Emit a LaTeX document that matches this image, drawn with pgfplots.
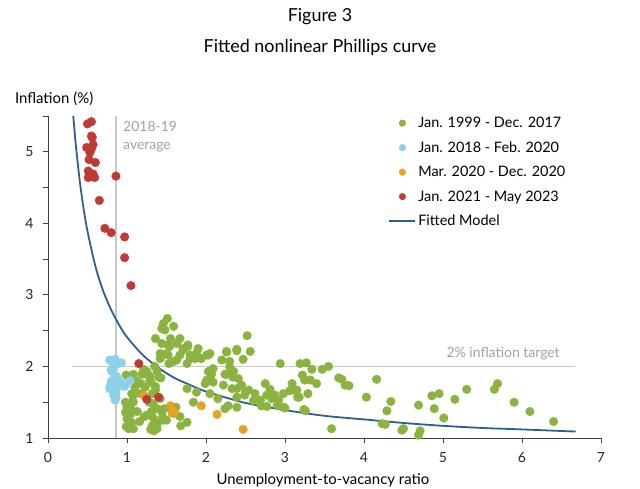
\documentclass[border=0pt]{standalone}
\usepackage{pgfplots}
\pgfplotsset{compat=1.18}
\usepackage{fontspec}
\setmainfont{Lato}
\definecolor{cgreen}{HTML}{8AB340}
\definecolor{cblue}{HTML}{8DD0EA}
\definecolor{corange}{HTML}{E3A21F}
\definecolor{cred}{HTML}{BE3A34}
\definecolor{cline}{HTML}{2E5F8F}
\definecolor{cgrid}{HTML}{C8C8C8}
\definecolor{cgtext}{HTML}{A0A0A0}
\definecolor{caxis}{HTML}{404040}
\begin{document}
\begin{tikzpicture}
\path[use as bounding box] (-48bp,-51bp) rectangle (592bp,438bp);
\begin{axis}[at={(0,0)}, anchor=south west, scale only axis,
  width=553bp, height=322bp,
  xmin=0, xmax=7, ymin=1, ymax=5.5, clip=false,
  axis x line=bottom, axis y line=left,
  axis line style={caxis, -, line width=0.8bp},
  xtick={0,...,7}, ytick={1,...,5}, minor ytick={1.5,2.5,3.5,4.5,5.5},
  tick align=outside, major tick length=5bp, minor tick length=5bp,
  tick style={caxis, line width=0.8bp},
  ticklabel style={font=\fontsize{14}{16}\selectfont, text=black!85},
  xticklabel style={yshift=-6bp}, yticklabel style={xshift=-6bp},
  /pgf/number format/assume math mode=true,
  xlabel={Unemployment-to-vacancy ratio},
  every axis x label/.style={at={(axis description cs:0.497,-0.13)}, anchor=center, inner sep=0, font=\fontsize{15}{17}\selectfont},
  ylabel={Inflation (\%)},
  every axis y label/.style={at={(axis description cs:-0.06,1.053)}, anchor=west, inner sep=0, font=\fontsize{15}{17}\selectfont},
  legend style={draw=none, fill=none, at={(axis description cs:0.610,1.0095)}, anchor=north west,
    font=\fontsize{14.5}{16}\selectfont, row sep=8.5bp,
    /tikz/every even column/.append style={column sep=0bp},
    /tikz/every odd column/.append style={column sep=0bp}},
  legend cell align=left,
]
\addplot[cgrid, line width=1.3bp, forget plot] coordinates {(0.86,1) (0.86,5.5)};
\addplot[cgrid, line width=1.3bp, forget plot] coordinates {(0.31,2) (6.67,2)};

\addplot[only marks, mark=*, mark size=4.3bp, color=cgreen, mark options={draw=cgreen, fill=cgreen},
  legend image code/.code={\fill (13bp,0) circle (3.3bp);}] coordinates {
(0.99,1.88)(0.98,1.50)(1.00,1.43)(0.98,1.36)(1.00,1.27)(0.99,1.16)(1.06,1.22)(1.06,1.39)(1.08,1.50)(1.06,1.62)
(1.10,1.71)(1.12,1.80)(1.08,1.89)(1.19,1.89)(1.21,1.96)(1.25,1.89)(1.29,1.80)(1.23,1.71)(1.17,1.62)(1.13,1.37)
(1.16,1.23)(1.08,1.13)(1.02,1.13)(1.05,1.15)(1.05,1.34)(1.02,1.48)(1.07,1.52)(1.11,1.62)(1.18,1.76)(1.24,1.90)
(1.27,1.88)(1.30,1.78)(1.32,1.62)(1.28,1.50)(1.25,1.32)(1.22,1.30)(1.32,1.30)(1.30,1.12)(1.34,1.10)(1.32,1.17)
(1.38,1.19)(1.45,1.29)(1.47,1.41)(1.54,1.43)(1.62,1.43)(1.68,1.17)(1.38,1.41)(1.42,1.55)(1.36,1.67)(1.43,1.84)
(1.35,2.00)(1.40,1.85)(1.33,1.48)(1.31,1.37)(1.35,1.25)(1.38,1.13)(1.44,1.37)(1.46,1.25)(1.50,1.25)(1.67,1.30)
(1.76,1.22)(1.42,2.18)(1.50,2.18)(1.54,2.28)(1.44,2.32)(1.63,2.32)(1.71,2.23)(1.77,2.28)(1.88,2.18)(1.80,2.11)
(1.63,2.09)(1.53,2.04)(1.76,1.69)(1.88,1.64)(1.84,1.50)(1.51,2.67)(1.46,2.60)(1.48,2.51)(1.44,2.53)(1.36,2.39)
(1.59,2.56)(1.55,2.39)(1.52,2.30)(1.67,2.39)(1.71,2.25)(1.77,2.30)(1.90,2.25)(1.44,2.16)(1.52,2.16)(1.67,2.16)
(1.80,2.16)(2.01,2.16)(2.05,2.18)(1.86,2.11)(1.94,2.11)(2.26,2.20)(2.39,2.22)(2.30,2.07)(1.59,2.07)(1.76,2.04)
(1.42,2.11)(1.25,1.93)(1.29,1.86)(1.38,1.93)(2.03,1.93)(2.07,1.89)(2.26,1.89)(2.35,1.93)(1.36,1.72)(2.01,1.81)
(2.52,2.43)(2.39,2.24)(2.26,2.21)(2.56,2.21)(2.03,2.16)(2.47,2.10)(2.20,2.09)(2.09,1.97)(2.24,1.89)(2.30,1.99)
(2.34,1.85)(2.41,1.83)(2.45,1.74)(1.99,1.76)(2.09,1.78)(2.22,1.74)(2.33,1.69)(2.39,1.69)(2.54,1.67)(2.49,1.60)
(2.62,1.62)(2.75,1.76)(2.77,1.60)(2.69,1.53)(2.39,1.57)(2.39,1.43)(2.24,1.41)(2.28,1.45)(2.87,1.60)(2.92,1.53)
(2.98,1.62)(3.09,1.76)(3.11,1.67)(2.94,2.04)(3.19,2.04)(2.83,1.55)(2.98,1.43)(3.06,1.66)(3.16,1.57)(3.24,1.40)
(2.90,1.45)(3.00,1.42)(2.77,1.44)(2.81,1.68)(2.50,1.65)(2.05,1.62)(2.15,1.55)(2.60,1.52)(2.70,1.45)
(3.27,2.05)(3.34,1.96)(3.47,1.96)(3.55,2.00)(3.22,1.88)(3.25,1.81)(3.32,1.81)(3.40,1.76)(3.15,1.67)(3.18,1.57)
(3.29,1.62)(3.68,1.84)(3.72,1.82)(3.76,1.74)(3.81,1.73)(4.16,1.82)(4.03,1.57)(4.34,1.51)(4.29,1.38)(3.26,1.38)
(3.59,1.13)(4.23,1.20)(4.27,1.19)(4.48,1.11)(4.50,1.13)(4.69,1.46)(4.71,1.10)(4.69,1.04)(4.86,1.59)(4.95,1.62)
(4.89,1.41)(5.01,1.28)(5.15,1.54)(5.30,1.68)(5.65,1.68)(5.69,1.76)(5.90,1.50)(6.10,1.37)(6.40,1.23)
};
\addlegendentry{Jan. 1999 - Dec. 2017}

\addplot[only marks, mark=*, mark size=4.3bp, color=cblue, mark options={draw=cblue, fill=cblue},
  legend image code/.code={\fill (13bp,0) circle (3.3bp);}] coordinates {
(0.78,2.09)(0.85,2.10)(0.93,2.05)(0.83,1.97)(0.81,1.93)(0.87,1.86)(0.80,1.79)(0.86,1.77)(0.91,1.74)(0.99,1.76)
(1.04,1.80)(0.78,1.69)(0.86,1.67)(0.83,1.60)(0.85,1.53)(0.86,1.56)(0.97,1.72)(0.89,1.81)(0.82,2.06)(0.88,2.04)
(0.79,1.73)(0.84,1.84)(0.95,1.76)(0.86,1.62)(0.80,1.95)
};
\addlegendentry{Jan. 2018 - Feb. 2020}

\addplot[only marks, mark=*, mark size=4.3bp, color=corange, mark options={draw=corange, fill=corange},
  legend image code/.code={\fill (13bp,0) circle (3.3bp);}] coordinates {
(1.21,1.60)(1.55,1.45)(1.57,1.35)(1.59,1.34)(1.58,1.38)(1.94,1.45)(2.14,1.33)(2.47,1.12)(1.60,1.36)
};
\addlegendentry{Mar. 2020 - Dec. 2020}

\addplot[only marks, mark=*, mark size=4.3bp, color=cred, mark options={draw=cred, fill=cred},
  legend image code/.code={\fill (13bp,0) circle (3.3bp);}] coordinates {
(0.50,5.39)(0.55,5.42)(0.55,5.22)(0.56,5.20)(0.49,5.06)(0.57,5.10)(0.53,4.99)(0.52,4.89)(0.60,4.85)(0.51,4.73)
(0.51,4.64)(0.59,4.64)(0.57,4.69)(0.86,4.66)(0.65,4.32)(0.72,3.93)(0.80,3.87)(0.97,3.81)(0.97,3.52)(1.05,3.13)
(1.15,2.04)(1.25,1.54)(1.40,1.57)(0.54,4.66)(0.55,5.04)
};
\addlegendentry{Jan. 2021 - May 2023}

\addplot[cline, line width=1.8bp, smooth,
  legend image code/.code={\draw (0,0) -- (26bp,0);}] coordinates {
(0.32,5.50)(0.35,5.12)(0.40,4.61)(0.45,4.21)(0.50,3.89)(0.60,3.40)(0.70,3.05)(0.80,2.79)(0.90,2.58)(1.00,2.41)
(1.20,2.16)(1.40,1.98)(1.60,1.84)(1.80,1.74)(2.00,1.65)(2.50,1.49)(3.00,1.39)(3.50,1.31)(4.00,1.26)(4.50,1.21)
(5.00,1.17)(5.50,1.14)(6.00,1.12)(6.68,1.09)
};
\addlegendentry{Fitted Model}

\node[anchor=north west, inner sep=0, text=cgtext, align=left, font=\fontsize{14}{18}\selectfont] at (axis cs:0.95,5.43) {2018-19\\average};
\node[anchor=east, inner sep=0, text=cgtext, font=\fontsize{14}{16}\selectfont] at (axis cs:6.48,2.18) {2\% inflation target};
\end{axis}
\node[font=\fontsize{18}{20}\selectfont] at (272bp,421bp) {Figure 3};
\node[font=\fontsize{18}{20}\selectfont] at (272bp,391bp) {Fitted nonlinear Phillips curve};
\end{tikzpicture}
\end{document}
